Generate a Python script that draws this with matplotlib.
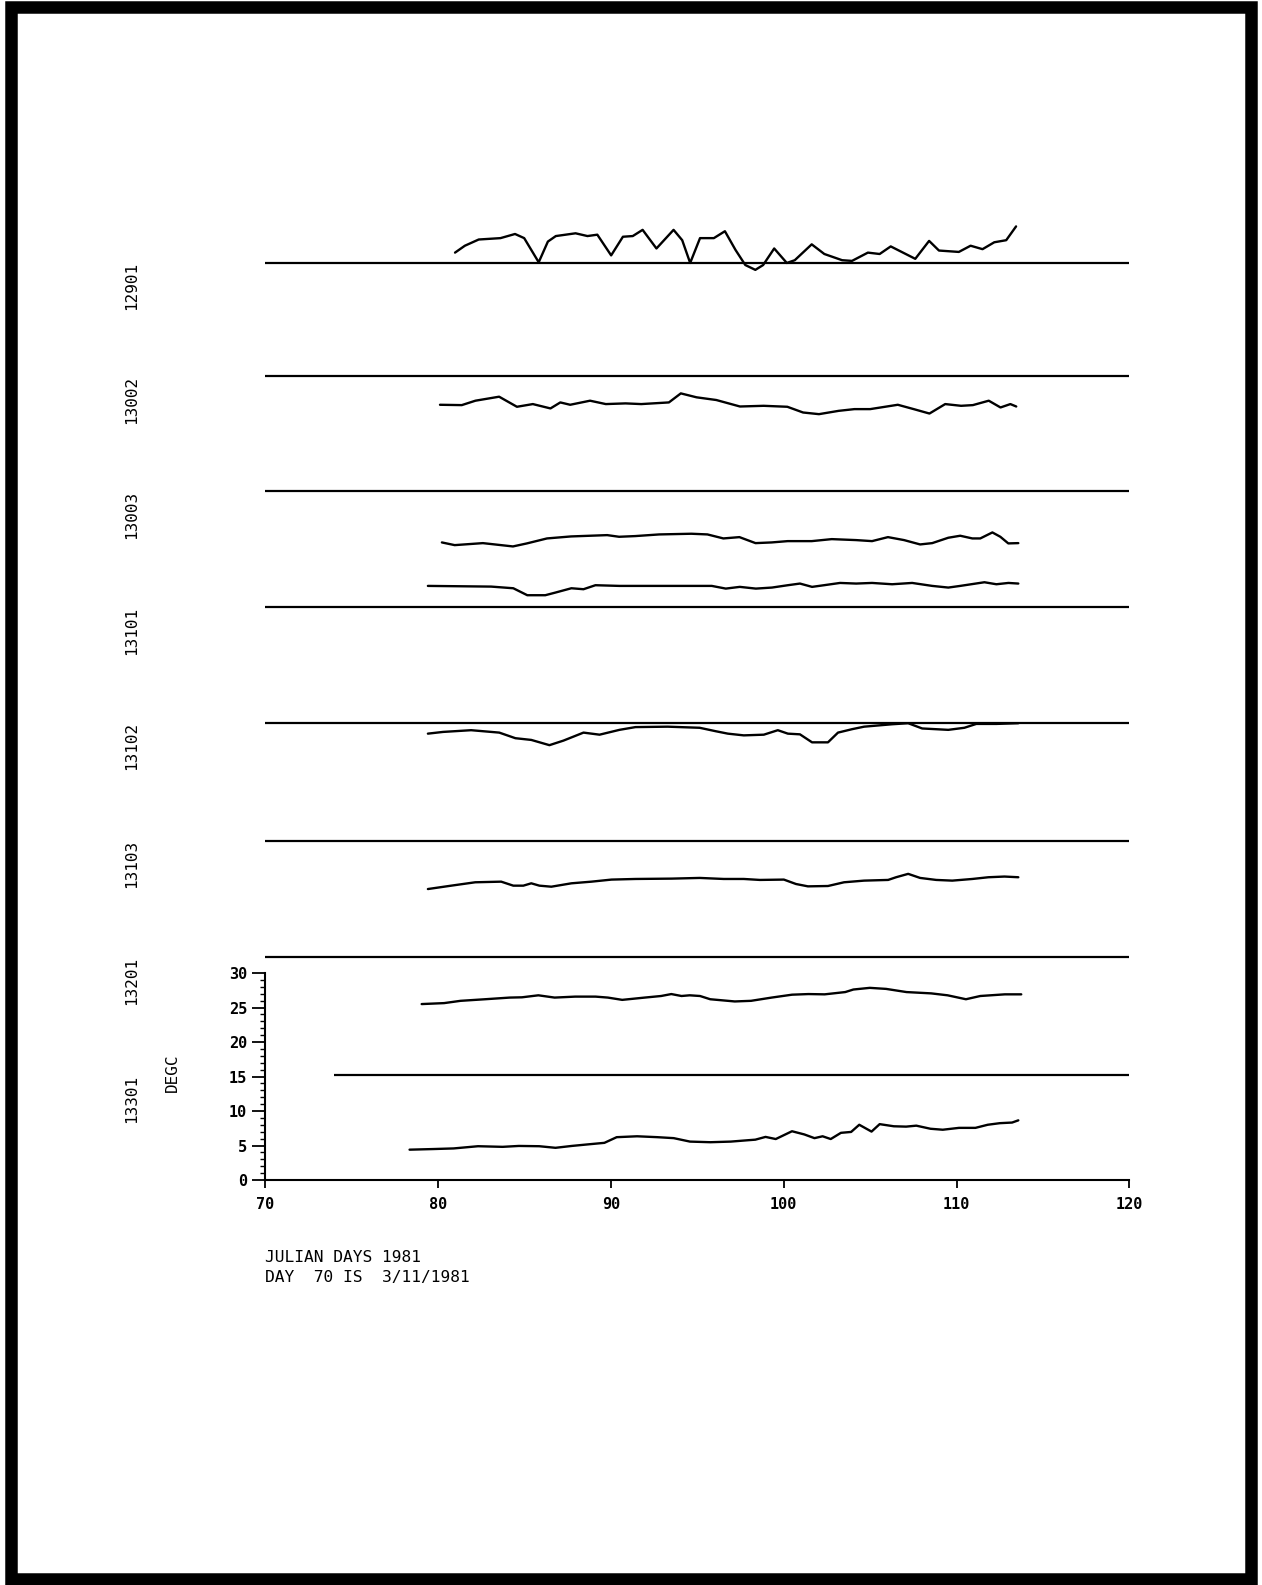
import numpy as np
import matplotlib
matplotlib.use("Agg")
import matplotlib.pyplot as plt
from matplotlib.transforms import blended_transform_factory
from matplotlib.patches import Rectangle
from matplotlib.ticker import FixedLocator

# stations, top to bottom, and their reference lines (plot units, DEGC scale)
stations = ['12901', '13002', '13003', '13101', '13102', '13103', '13201', '13301']
base_lines = [132.9, 116.5, 99.8, 83.0, 66.3, 49.2, 32.3, 15.2]
base_start = [70, 70, 70, 70, 70, 70, 70, 74]

# traces: julian day / plotted value
day_12901 = [80.99, 81.56, 82.36, 83.62, 84.46, 84.99, 85.83, 86.36, 86.82, 87.96, 88.65, 89.22,
             90.02, 90.70, 91.27, 91.84, 92.64, 93.63, 94.13, 94.59, 95.16, 95.96, 96.60, 97.21,
             97.78, 98.36, 98.81, 99.45, 100.18, 100.64, 101.62, 102.35, 103.38, 103.95, 104.87,
             105.55, 106.19, 107.61, 108.41, 108.98, 110.13, 110.81, 111.50, 112.18, 112.87, 113.44]
t_12901 = [134.4, 135.4, 136.3, 136.5, 137.1, 136.5, 133.0, 136.0, 136.8, 137.2, 136.8, 137.0,
           134.0, 136.7, 136.8, 137.7, 135.0, 137.7, 136.2, 132.9, 136.5, 136.5, 137.5, 134.8,
           132.6, 131.9, 132.6, 135.0, 132.9, 133.3, 135.6, 134.2, 133.3, 133.2, 134.4,
           134.2, 135.3, 133.5, 136.1, 134.7, 134.5, 135.4, 134.9, 135.9, 136.2, 138.2]

day_13002 = [80.12, 81.38, 82.17, 83.54, 84.57, 85.49, 86.51, 87.08, 87.65, 88.80, 89.71, 90.85,
             91.76, 93.36, 94.05, 94.96, 96.10, 97.47, 98.84, 100.21, 101.12, 102.04, 103.18,
             104.09, 105.00, 106.60, 107.52, 108.43, 109.34, 110.26, 110.94, 111.86, 112.54,
             113.11, 113.45]
t_13002 = [112.35, 112.3, 112.94, 113.52, 112.06, 112.45, 111.82, 112.69, 112.35, 112.94, 112.45,
           112.55, 112.45, 112.69, 114.0, 113.43, 113.04, 112.1, 112.2, 112.06, 111.23, 110.99,
           111.47, 111.72, 111.72, 112.35, 111.72, 111.08, 112.45, 112.2, 112.3, 112.94, 111.96,
           112.45, 112.1]

day_13003 = [80.23, 80.97, 82.60, 84.34, 85.15, 86.31, 87.70, 89.79, 90.48, 91.41, 92.80, 94.66,
             95.59, 96.51, 97.44, 98.37, 99.30, 100.23, 101.62, 102.78, 104.18, 105.11, 106.03,
             106.96, 107.89, 108.59, 109.52, 110.21, 110.91, 111.37, 112.07, 112.53, 112.99, 113.57]
t_13003 = [92.4, 92.01, 92.3, 91.82, 92.26, 92.98, 93.27, 93.46, 93.22, 93.32, 93.56, 93.66,
           93.56, 92.98, 93.17, 92.3, 92.4, 92.59, 92.59, 92.88, 92.74, 92.59, 93.17,
           92.74, 92.11, 92.3, 93.08, 93.37, 92.98, 92.98, 93.85, 93.22, 92.26, 92.3]

day_13101 = [79.42, 83.08, 84.36, 85.17, 86.21, 86.79, 87.72, 88.42, 89.11, 90.50, 92.36, 95.84,
             96.65, 97.46, 98.39, 99.32, 100.24, 100.94, 101.64, 102.33, 103.26, 104.19, 105.11,
             106.27, 107.43, 108.59, 109.52, 110.21, 111.61, 112.30, 113.0, 113.57]
t_13101 = [86.1, 86.0, 85.76, 84.75, 84.75, 85.13, 85.76, 85.62, 86.2, 86.1, 86.1, 86.1,
           85.71, 85.96, 85.71, 85.86, 86.2, 86.44, 85.96, 86.2, 86.53, 86.44, 86.53,
           86.34, 86.53, 86.1, 85.86, 86.1, 86.63, 86.34, 86.53, 86.44]

day_13102 = [79.42, 80.30, 81.92, 83.55, 84.48, 85.40, 86.45, 87.26, 88.42, 89.35, 90.50, 91.43,
             93.29, 95.14, 96.07, 96.77, 97.69, 98.85, 99.66, 100.24, 100.94, 101.64, 102.56,
             103.14, 103.96, 104.65, 106.27, 107.20, 108.01, 109.52, 110.45, 111.14, 112.30, 113.57]
t_13102 = [64.69, 64.94, 65.19, 64.84, 64.03, 63.78, 63.02, 63.68, 64.84, 64.54, 65.24, 65.64,
           65.7, 65.54, 65.04, 64.69, 64.44, 64.54, 65.19, 64.69, 64.59, 63.43, 63.43,
           64.84, 65.34, 65.7, 66.05, 66.2, 65.44, 65.24, 65.54, 66.1, 66.1, 66.2]

day_13103 = [79.42, 80.77, 82.16, 83.66, 84.36, 84.94, 85.40, 85.87, 86.56, 87.72, 88.88, 90.04,
             91.43, 93.52, 95.14, 96.53, 97.69, 98.62, 100.01, 100.71, 101.40, 102.56, 103.49,
             104.65, 106.04, 106.50, 107.20, 107.89, 108.82, 109.75, 110.91, 111.84, 112.77, 113.57]
t_13103 = [42.17, 42.66, 43.15, 43.24, 42.66, 42.66, 43.0, 42.66, 42.51, 43.0, 43.24, 43.54,
           43.63, 43.68, 43.78, 43.63, 43.63, 43.49, 43.54, 42.9, 42.56, 42.61, 43.15,
           43.39, 43.49, 43.88, 44.37, 43.78, 43.49, 43.39, 43.63, 43.88, 43.98, 43.88]

day_13201 = [79.06, 80.36, 81.31, 82.73, 84.15, 84.86, 85.81, 86.75, 87.94, 89.12, 89.83, 90.66,
             91.96, 92.91, 93.50, 94.09, 94.56, 95.16, 95.75, 97.17, 98.11, 99.30, 100.48, 101.43,
             102.37, 103.56, 104.03, 104.98, 105.92, 107.10, 108.53, 109.48, 110.54, 111.37,
             112.79, 113.74]
t_13201 = [25.5, 25.64, 25.97, 26.2, 26.44, 26.48, 26.77, 26.44, 26.58, 26.58, 26.44, 26.11,
           26.44, 26.67, 26.95, 26.67, 26.77, 26.67, 26.2, 25.88, 25.97, 26.44, 26.86, 26.95,
           26.91, 27.24, 27.61, 27.85, 27.7, 27.24, 27.05, 26.77, 26.2, 26.67,
           26.91, 26.91]

day_13301 = [78.36, 79.73, 80.91, 82.32, 83.74, 84.68, 85.86, 86.80, 87.74, 88.69, 89.63, 90.34,
             91.52, 92.70, 93.64, 94.58, 95.76, 96.94, 97.89, 98.36, 98.95, 99.54, 100.48, 101.19,
             101.78, 102.25, 102.72, 103.31, 103.90, 104.37, 105.08, 105.55, 106.37, 107.08,
             107.67, 108.49, 109.20, 110.14, 111.09, 111.80, 112.50, 113.21, 113.57]
t_13301 = [4.4, 4.49, 4.58, 4.9, 4.81, 4.94, 4.9, 4.67, 4.94, 5.17, 5.39, 6.21,
           6.34, 6.21, 6.07, 5.57, 5.48, 5.57, 5.76, 5.85, 6.25, 5.94, 7.07, 6.61,
           6.07, 6.34, 5.94, 6.84, 6.97, 8.01, 7.02, 8.1, 7.79, 7.74,
           7.88, 7.43, 7.29, 7.56, 7.56, 8.01, 8.24, 8.33, 8.65]

x_ticks = [70, 80, 90, 100, 110, 120]
y_ticks = [0, 5, 10, 15, 20, 25, 30]
notes = ['JULIAN DAYS 1981', 'DAY  70 IS  3/11/1981']

traces = [(day_12901, t_12901), (day_13002, t_13002), (day_13003, t_13003), (day_13101, t_13101),
          (day_13102, t_13102), (day_13103, t_13103), (day_13201, t_13201), (day_13301, t_13301)]

mono = 'DejaVu Sans Mono'
plt.rcParams['font.family'] = mono

fig = plt.figure(figsize=(12.62, 15.85), dpi=100)
ax = fig.add_axes([0.2100, 0.2555, 0.6850, 0.6095])
ax.set_xlim(70, 120)
ax.set_ylim(0, 140)

# reference lines
for b, x0 in zip(base_lines, base_start):
    ax.plot([x0, 120], [b, b], color='black', lw=1.6, solid_capstyle='butt')

# station traces
for d, t in traces:
    ax.plot(d, t, color='black', lw=1.7, solid_joinstyle='round', solid_capstyle='round')

# axes styling: plotter look
for s in ['top', 'right']:
    ax.spines[s].set_visible(False)
ax.spines['left'].set_bounds(0, 30)
ax.spines['left'].set_linewidth(1.5)
ax.spines['bottom'].set_linewidth(1.5)
ax.set_xticks(x_ticks)
ax.set_yticks(y_ticks)
ax.yaxis.set_minor_locator(FixedLocator(list(range(0, 31))))
ax.tick_params(axis='y', which='major', direction='out', length=9.5, width=1.3, pad=3.5,
               labelsize=11)
ax.tick_params(axis='y', which='minor', direction='out', length=3.5, width=1.0)
ax.tick_params(axis='x', which='major', direction='out', length=6, width=1.3, pad=6,
               labelsize=11)
for lab in ax.get_xticklabels() + ax.get_yticklabels():
    lab.set_fontweight('bold')

# station names on the left, rotated
trans = blended_transform_factory(ax.transAxes, ax.transData)
for name, b in zip(stations, base_lines):
    ax.text(-0.1544, b - 3.4, name, transform=trans, rotation=90, ha='center', va='center',
            fontsize=11.5, clip_on=False)
ax.text(-0.1076, 15.6, 'DEGC', transform=trans, rotation=90, ha='center', va='center',
        fontsize=11.5, clip_on=False)

# footnote text
fig.text(0.2100, 0.2069, notes[0], ha='left', va='center', fontsize=11.7)
fig.text(0.2100, 0.1943, notes[1], ha='left', va='center', fontsize=11.7)

# scanned page border
fig.patches.append(Rectangle((0.0087, 0.0041), 0.9826, 0.9912, transform=fig.transFigure,
                             fill=False, lw=9, ec='black', joinstyle='miter'))

plt.savefig("out.png", dpi=100)
